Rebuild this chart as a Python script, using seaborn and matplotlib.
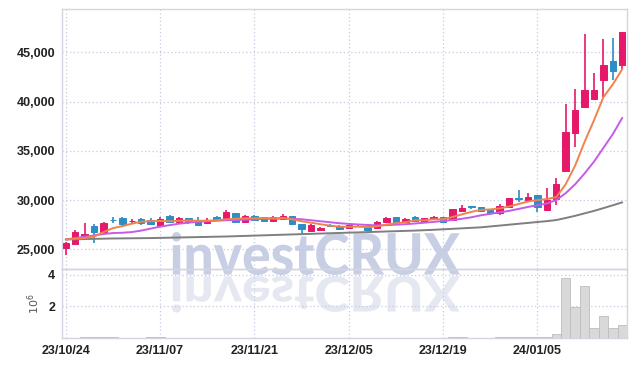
import numpy as np
import pandas as pd
import matplotlib
matplotlib.use('Agg')
import matplotlib.pyplot as plt
import seaborn as sns
from matplotlib.ticker import FuncFormatter
from matplotlib.textpath import TextPath
from matplotlib.patches import PathPatch
from matplotlib.font_manager import FontProperties
from matplotlib.transforms import Affine2D

# --- data (60 trading days) ---
tick_pos = [0, 10, 20, 30, 40, 50]
tick_labels = ['23/10/24', '23/11/07', '23/11/21', '23/12/05', '23/12/19', '24/01/05']

opens = [25170, 25507, 26217, 27366, 26724, 27990, 28143, 27850, 28110, 27975,
         27400, 28414, 27738, 28143, 27975, 27700, 28245, 28211, 28650, 27738,
         28380, 28245, 27900, 28110, 28380, 27569, 26860, 27000, 27430, 27370,
         27163, 27400, 27300, 27163, 27805, 28279, 27772, 28245, 27772, 28076,
         28279, 27974, 28921, 29428, 29293, 28988, 28650, 29326, 30171, 30002,
         30476, 28988, 30070, 32977, 36830, 39466, 40244, 42204, 44097, 43759]
highs = [25700, 27000, 27636, 27535, 27800, 28245, 28312, 28100, 28150, 28150,
         28300, 28480, 28300, 28150, 28250, 28143, 28380, 28990, 28700, 28480,
         28450, 28300, 28350, 28550, 28400, 27600, 27550, 27300, 27600, 27450,
         27500, 27470, 27400, 27900, 28280, 28300, 28150, 28400, 28200, 28350,
         28300, 29100, 29530, 29430, 29300, 29000, 29600, 30250, 31000, 30700,
         30500, 31200, 32200, 39800, 41325, 46835, 42950, 46400, 46500, 47038]
lows = [24430, 25500, 26200, 25676, 26700, 27700, 27300, 27700, 27500, 27450,
        27350, 27700, 27700, 27550, 27400, 27600, 27900, 28150, 27700, 27700,
        27900, 27850, 27850, 28050, 27500, 26600, 26800, 26900, 27250, 27000,
        27100, 27300, 26850, 27050, 27700, 27650, 27700, 27850, 27700, 28000,
        27700, 27900, 28800, 29100, 28800, 28450, 28450, 29250, 29800, 29900,
        28800, 28900, 29500, 32977, 35410, 39300, 40140, 40480, 42170, 43350]
closes = [25680, 26724, 26521, 26724, 27636, 27950, 27569, 27900, 27700, 27535,
          28076, 27738, 28143, 27900, 27467, 27975, 27975, 28786, 27738, 28380,
          27975, 27900, 28280, 28380, 27535, 27028, 27467, 27200, 27400, 27100,
          27434, 27370, 26960, 27805, 28177, 27704, 28076, 27907, 28143, 28279,
          27805, 29056, 29191, 29293, 28921, 28650, 29394, 30205, 30140, 30307,
          29326, 30002, 31625, 36864, 39128, 41224, 41224, 43691, 43117, 47038]
volumes = [0.02, 0.02, 0.08, 0.05, 0.09, 0.04, 0.02, 0.02, 0.02, 0.04,
           0.04, 0.015, 0.015, 0.015, 0.015, 0.015, 0.015, 0.03, 0.015, 0.015,
           0.015, 0.015, 0.015, 0.015, 0.015, 0.03, 0.015, 0.015, 0.015, 0.015,
           0.015, 0.015, 0.015, 0.015, 0.015, 0.015, 0.015, 0.015, 0.015, 0.015,
           0.015, 0.04, 0.04, 0.015, 0.015, 0.015, 0.035, 0.035, 0.035, 0.035,
           0.035, 0.035, 0.25, 3.8, 1.95, 3.3, 0.6, 1.4, 0.6, 0.8]
ma_short = [26000, 26080, 26150, 26300, 26750, 27150, 27350, 27600, 27800, 27850,
            27880, 27850, 27900, 27920, 27900, 27900, 27950, 28050, 28100, 28150,
            28150, 28180, 28150, 28180, 28050, 27850, 27700, 27550, 27400, 27300,
            27280, 27300, 27250, 27330, 27500, 27650, 27750, 27950, 27950, 28050,
            28050, 28280, 28550, 28800, 29000, 29050, 29150, 29350, 29600, 29850,
            30000, 30100, 30300, 31600, 33500, 35900, 38100, 40450, 41750, 43300]
ma_mid = [26000, 26150, 26280, 26400, 26550, 26650, 26680, 26750, 26900, 27100,
          27300, 27450, 27600, 27700, 27800, 27850, 27900, 27950, 27980, 28000,
          28050, 28100, 28100, 28120, 28100, 28050, 27950, 27850, 27750, 27650,
          27580, 27520, 27470, 27430, 27450, 27500, 27550, 27620, 27700, 27780,
          27880, 27980, 28100, 28250, 28450, 28600, 28750, 28900, 29100, 29300,
          29480, 29650, 30000, 30700, 31600, 32700, 33900, 35300, 36700, 38350]
ma_long = [26000, 26020, 26040, 26060, 26080, 26100, 26110, 26120, 26130, 26140,
           26160, 26180, 26200, 26220, 26240, 26260, 26280, 26300, 26330, 26360,
           26390, 26420, 26450, 26480, 26510, 26540, 26570, 26600, 26630, 26660,
           26690, 26720, 26750, 26780, 26810, 26840, 26870, 26900, 26940, 26980,
           27030, 27080, 27130, 27180, 27230, 27320, 27410, 27500, 27590, 27680,
           27770, 27860, 27970, 28180, 28400, 28650, 28900, 29180, 29470, 29770]

df = pd.DataFrame({'idx': np.arange(len(opens)), 'open': opens, 'high': highs,
                   'low': lows, 'close': closes, 'vol': np.array(volumes) * 1e6,
                   'ma_short': ma_short, 'ma_mid': ma_mid, 'ma_long': ma_long})

UP = '#e5186a'
DOWN = '#2c8ec6'
GRID = '#c6cbe0'
SPINE = '#d3d6e0'
TXT = '#222222'

sns.set_theme(style='whitegrid')
plt.rcParams['font.family'] = ['Liberation Sans', 'DejaVu Sans']

fig = plt.figure(figsize=(6.35, 3.66), dpi=100)
ax = fig.add_axes([62 / 635, 1 - 269 / 366, 565 / 635, 260 / 366])
axv = fig.add_axes([62 / 635, 1 - 338 / 366, 565 / 635, 69 / 366], sharex=ax)

for a in (ax, axv):
    a.set_facecolor('none')
    a.grid(True, color=GRID, linestyle=(0, (1, 2)), linewidth=0.9)
    for s in a.spines.values():
        s.set_color(SPINE)
        s.set_linewidth(1.0)
    a.tick_params(length=0, colors=TXT, labelsize=9)
    for lbl in a.get_xticklabels() + a.get_yticklabels():
        lbl.set_fontweight('bold')

# watermark with reflection
tp = TextPath((0, 0), 'investCRUX', size=50,
              prop=FontProperties(family=['Lato', 'DejaVu Sans'], weight=900))
ext = tp.get_extents()
sx, sy = 288 / ext.width, 43 / ext.height
tr = Affine2D().translate(-ext.x0, -ext.y0).scale(sx, sy).translate(172, 366 - 275)
fig.add_artist(PathPatch(tp, transform=tr, facecolor='#c8cfe4', edgecolor='none', zorder=-1))
tr2 = Affine2D().translate(-ext.x0, -ext.y0).scale(sx, -sy * 0.85).translate(172, 366 - 276)
fig.add_artist(PathPatch(tp, transform=tr2, facecolor='#e6e8f1', edgecolor='none', zorder=-1))

# candles
colors = np.where(df['close'] >= df['open'], UP, DOWN)
ax.vlines(df['idx'], df['low'], df['high'], colors=colors, linewidth=1.2, zorder=3)
ax.bar(df['idx'], (df['close'] - df['open']).abs(),
       bottom=np.minimum(df['open'], df['close']), width=0.68,
       color=colors, edgecolor=colors, linewidth=0.7, zorder=3)

# moving averages
sns.lineplot(data=df, x='idx', y='ma_long', color='#7f7f7f', lw=1.4, ax=ax, zorder=4)
sns.lineplot(data=df, x='idx', y='ma_mid', color='#c65be8', lw=1.4, ax=ax, zorder=4)
sns.lineplot(data=df, x='idx', y='ma_short', color='#f0834c', lw=1.4, ax=ax, zorder=4)

ax.set_xlim(-0.4, 59.5)
ax.set_ylim(23000, 49400)
ax.set_yticks([25000, 30000, 35000, 40000, 45000])
ax.yaxis.set_major_formatter(FuncFormatter(lambda v, p: f'{v:,.0f}'))
ax.set_xlabel('')
ax.set_ylabel('')
ax.tick_params(axis='x', labelbottom=False)
ax.tick_params(axis='y', pad=5)

# volume
axv.bar(df['idx'], df['vol'], width=1.0, color='#d9d9d9', edgecolor='#bdbdbd',
        linewidth=0.6, zorder=3)
axv.set_ylim(0, 4.35e6)
axv.set_yticks([2e6, 4e6])
axv.set_yticklabels(['2', '4'])
axv.set_xticks(tick_pos)
axv.set_xticklabels(tick_labels)
axv.tick_params(axis='y', pad=5)
axv.tick_params(axis='x', pad=5)
axv.set_ylabel(r'$10^6$', fontsize=8, color='#555555', labelpad=4)
axv.set_xlabel('')

for a in (ax, axv):
    for lbl in a.get_xticklabels() + a.get_yticklabels():
        lbl.set_fontweight('bold')

fig.savefig('out.png', dpi=100)
